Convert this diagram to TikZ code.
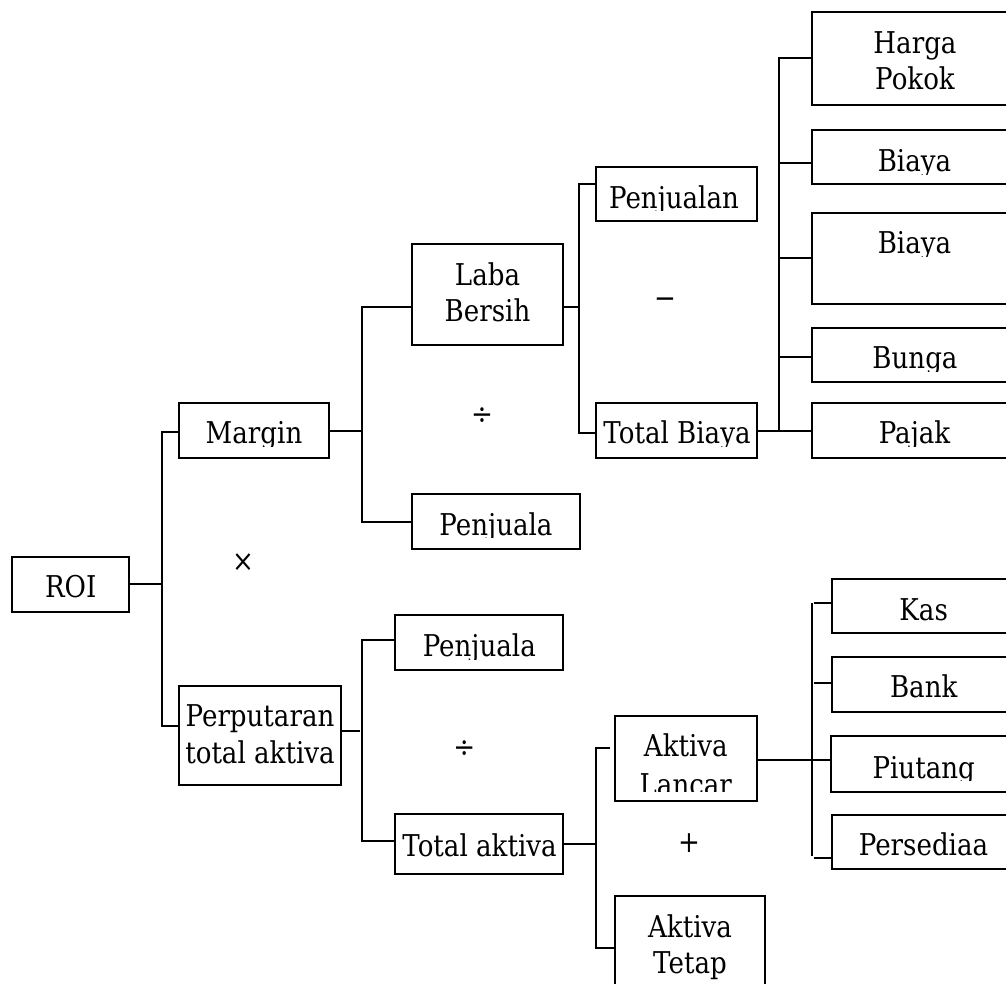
\documentclass[tikz,border=0pt]{standalone}
\usepackage{fontspec}
\setmainfont[FakeStretch=0.87]{DejaVu Serif}
\newcommand\bx[5]{\node[box, minimum width={(#4)-(#2)}, minimum height={(#5)-(#3)}] (#1) at ({((#2)+(#4))/2},{((#3)+(#5))/2}) {};}
\newcommand\tx[4]{\node[lbl] (#1) at (#2,#3) {#4};}
\newcommand\ctx[6]{\begin{scope}\clip (#5.north west) rectangle (#5.east |- 0,#6);\node[lbl] (#1) at (#2,#3) {#4};\end{scope}}
\begin{document}
\begin{tikzpicture}[x=1pt,y=-1pt,
  box/.style={draw, line width=2pt, inner sep=0pt},
  lbl/.style={anchor=base, inner sep=0pt, font=\fontsize{30}{36}\selectfont},
  op/.style={inner sep=0pt, font=\fontsize{30}{36}\selectfont},
  conn/.style={line width=2pt}]
\useasboundingbox (0,0) rectangle (1006,983);
\clip (0,0) rectangle (1006,983);
% boxes
\bx{roi}{12}{557}{129}{611.5}
\bx{margin}{179}{403}{329}{458}
\bx{laba}{412}{243.5}{563}{345}
\bx{pjA}{412}{494}{580}{548.5}
\bx{perp}{179}{686}{340.5}{785}
\bx{pjB}{395}{615}{563}{669.5}
\bx{tota}{395}{814}{563}{874}
\bx{penj}{596}{167}{757}{221}
\bx{totb}{596}{403}{757}{458}
\bx{harga}{812}{12}{1018}{105}
\bx{biayaA}{812}{130}{1018}{184}
\bx{biayaB}{812}{213}{1018}{304}
\bx{bunga}{812}{328}{1018}{382}
\bx{pajak}{812}{403}{1018}{458}
\bx{lancar}{615}{716}{757}{801}
\bx{tetap}{615}{896}{765}{1010}
\bx{kas}{832}{579}{1015}{633}
\bx{bank}{832}{657}{1015}{712}
\bx{piutang}{831}{736}{1015}{792}
\bx{persed}{832}{815}{1015}{869}
% texts
\tx{troi}{70.7}{597.4}{ROI}
\ctx{tmargin}{254}{443}{Margin}{margin}{446.5}
\tx{tlaba1}{487.5}{285.5}{Laba}
\tx{tlaba2}{487.5}{321.8}{Bersih}
\ctx{tpjA}{496}{535}{Penjuala}{pjA}{537.5}
\tx{tperp1}{260}{726.7}{Perputaran}
\tx{tperp2}{260}{763.9}{total aktiva}
\ctx{tpjB}{479.3}{656.7}{Penjuala}{pjB}{659}
\tx{ttota}{479.5}{856}{Total aktiva}
\ctx{tpenj}{674}{208.3}{Penjualan}{penj}{210.5}
\ctx{ttotb}{677}{443.3}{Total Biaya}{totb}{446.5}
\tx{tharga1}{915}{53.3}{Harga}
\tx{tharga2}{915}{89.3}{Pokok}
\ctx{tbiayaA}{914.5}{171.7}{Biaya}{biayaA}{174}
\ctx{tbiayaB}{914.5}{253.3}{Biaya}{biayaB}{256}
\ctx{tbunga}{915}{368.3}{Bunga}{bunga}{371}
\ctx{tpajak}{914.5}{443.3}{Pajak}{pajak}{446}
\tx{tlancar1}{685.8}{756.7}{Aktiva}
\ctx{tlancar2}{685.8}{795}{Lancar}{lancar}{791.5}
\tx{ttetap1}{690}{937.3}{Aktiva}
\tx{ttetap2}{690}{973.3}{Tetap}
\tx{tkas}{923.7}{620}{Kas}
\tx{tbank}{923.7}{697.3}{Bank}
\ctx{tpiutang}{923.7}{778.3}{Piutang}{piutang}{780.5}
\tx{tpersed}{923.5}{855.7}{Persediaa}
% operators
\node[op] (times) at (243,563) {×};
\node[op] (divA) at (482,416.4) {÷};
\node[op] (divB) at (464.2,749.3) {÷};
\node[op] (minus) at (665,302.7) {−};
\node[op] (plus) at (689,842.7) {+};
% connectors
\coordinate (k1a) at (162,431.5); \coordinate (k1b) at (162,725.6);
\draw[conn] (margin.west |- k1a) -- (k1a) -- (k1b) -- (perp.west |- k1b);
\draw[conn] (roi.east) -- (roi.east -| k1a);
\coordinate (k2a) at (362.4,307); \coordinate (k2b) at (362.4,522);
\draw[conn] (laba.west |- k2a) -- (k2a) -- (k2b) -- (pjA.west |- k2b);
\draw[conn] (margin.east) -- (margin.east -| k2a);
\coordinate (k3a) at (579,184); \coordinate (k3b) at (579,433);
\draw[conn] (penj.west |- k3a) -- (k3a) -- (k3b) -- (totb.west |- k3b);
\draw[conn] (laba.east |- k2a) -- (k2a -| k3a);
\coordinate (k4a) at (779,57.7); \coordinate (k4b) at (779,431);
\draw[conn] (harga.west |- k4a) -- (k4a) -- (k4b);
\draw[conn] (totb.east |- k4b) -- (pajak.west |- k4b);
\draw[conn] (k4a |- 0,162.7) -- (biayaA.west |- 0,162.7);
\draw[conn] (k4a |- 0,257.7) -- (biayaB.west |- 0,257.7);
\draw[conn] (k4a |- 0,356.7) -- (bunga.west |- 0,356.7);
\coordinate (k5a) at (362.4,640.3); \coordinate (k5b) at (362.4,841);
\draw[conn] (pjB.west |- k5a) -- (k5a) -- (k5b) -- (tota.west |- k5b);
\draw[conn] (perp.east |- 0,731.3) -- (359.7,731.3);
\coordinate (k6a) at (595.7,748.3); \coordinate (k6b) at (595.7,948);
\draw[conn] ([xshift=-4pt]lancar.west |- k6a) -- (k6a) -- (k6b) -- (tetap.west |- k6b);
\draw[conn] (tota.east |- 0,844.3) -- (k6a |- 0,844.3);
\coordinate (k7a) at (811.7,603.3); \coordinate (k7b) at (811.7,856);
\draw[conn] (k7a) -- (k7b);
\draw[conn] ([xshift=2pt]k7a) -- (kas.west |- k7a);
\draw[conn] ([xshift=2pt]k7a |- 0,683.3) -- (bank.west |- 0,683.3);
\draw[conn] ([xshift=2pt]k7a |- 0,857.7) -- (persed.west |- 0,857.7);
\draw[conn] (lancar.east |- 0,760) -- (piutang.west |- 0,760);
\end{tikzpicture}
\end{document}
